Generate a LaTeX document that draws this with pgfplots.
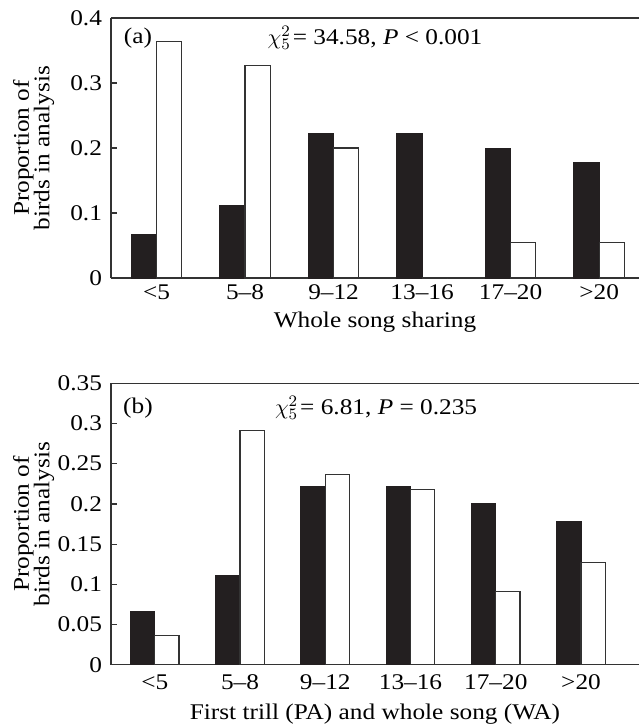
\documentclass[border=0pt]{standalone}
\usepackage{fontspec}
\setmainfont{Liberation Serif}[FakeStretch=1.13]
\usepackage{pgfplots}
\usepackage{pgfplotstable}
\pgfplotsset{compat=1.18}
\definecolor{barblack}{HTML}{231F20}
\definecolor{axgray}{HTML}{333333}

\pgfplotstableread{
x black white
0 0.0667 0.3636
1 0.1111 0.3273
2 0.2222 0.2000
3 0.2222 0.0000
4 0.2000 0.0545
5 0.1778 0.0545
}\dataA

\pgfplotstableread{
x black white
0 0.0667 0.0364
1 0.1111 0.2909
2 0.2222 0.2364
3 0.2222 0.2182
4 0.2000 0.0909
5 0.1778 0.1273
}\dataB

\pgfplotsset{
  panel/.style={
    scale only axis,
    width=264pt,
    axis x line*=box,
    axis y line*=left,
    axis line style={axgray, line width=0.6pt},
    ybar,
    bar width=0.285,
    ymin=0,
    xtick={0,1,2,3,4,5},
    xticklabels={<5,5--8,9--12,13--16,17--20,>20},
    xtick style={draw=none},
    ytick style={axgray, line width=0.6pt},
    tick align=inside,
    major tick length=3pt,
    /pgf/number format/fixed,
    /pgf/number format/assume math mode=true,
    ylabel={Proportion of\\birds in analysis},
    ylabel style={align=center, font=\fontsize{11.2}{10.2}\selectfont,
      at={(axis description cs:-0.186,0.5)}, anchor=north, inner sep=0pt},
    yticklabel style={xshift=-1pt},
    clip=false,
  },
  blackbar/.style={fill=barblack, draw=barblack, line width=0.5pt, bar shift=-0.1425},
  whitebar/.style={fill=white, draw=axgray, line width=0.6pt, bar shift=0.1425},
}

\begin{document}
\begin{tikzpicture}[font=\fontsize{11.2}{13}\selectfont]
\useasboundingbox (-55.5pt,-225pt) rectangle (264pt,139pt);
\begin{axis}[panel,
  at={(0,0)},
  height=130pt,
  xmin=-0.514, xmax=5.45,
  ymax=0.4,
  ytick={0,0.1,0.2,0.3,0.4},
  yticklabels={0,0.1,0.2,0.3,0.4},
  xticklabel style={yshift=0pt},
  xlabel={Whole song sharing},
  xlabel style={yshift=1pt},
]
\addplot[blackbar] table[x=x,y=black]{\dataA};
\addplot[whitebar] table[x=x,y=white]{\dataA};
\node at (axis description cs:0.051,0.923) {(a)};
\node at (axis description cs:0.5,0.923) {$\chi^2_5$\kern1pt= 34.58, \textit{P} < 0.001};
\end{axis}

\begin{axis}[panel,
  at={(0,-193.35pt)},
  height=140.7pt,
  xmin=-0.513, xmax=5.68,
  ymax=0.35,
  ytick={0,0.05,0.1,0.15,0.2,0.25,0.3,0.35},
  yticklabels={0,0.05,0.1,0.15,0.2,0.25,0.3,0.35},
  xticklabel style={yshift=-1.5pt},
  xlabel={First trill (PA) and whole song (WA)},
  xlabel style={yshift=0pt},
]
\addplot[blackbar] table[x=x,y=black]{\dataB};
\addplot[whitebar] table[x=x,y=white]{\dataB};
\node at (axis description cs:0.051,0.912) {(b)};
\node at (axis description cs:0.502,0.912) {$\chi^2_5$\kern1pt= 6.81, \textit{P} = 0.235};
\end{axis}
\end{tikzpicture}
\end{document}
